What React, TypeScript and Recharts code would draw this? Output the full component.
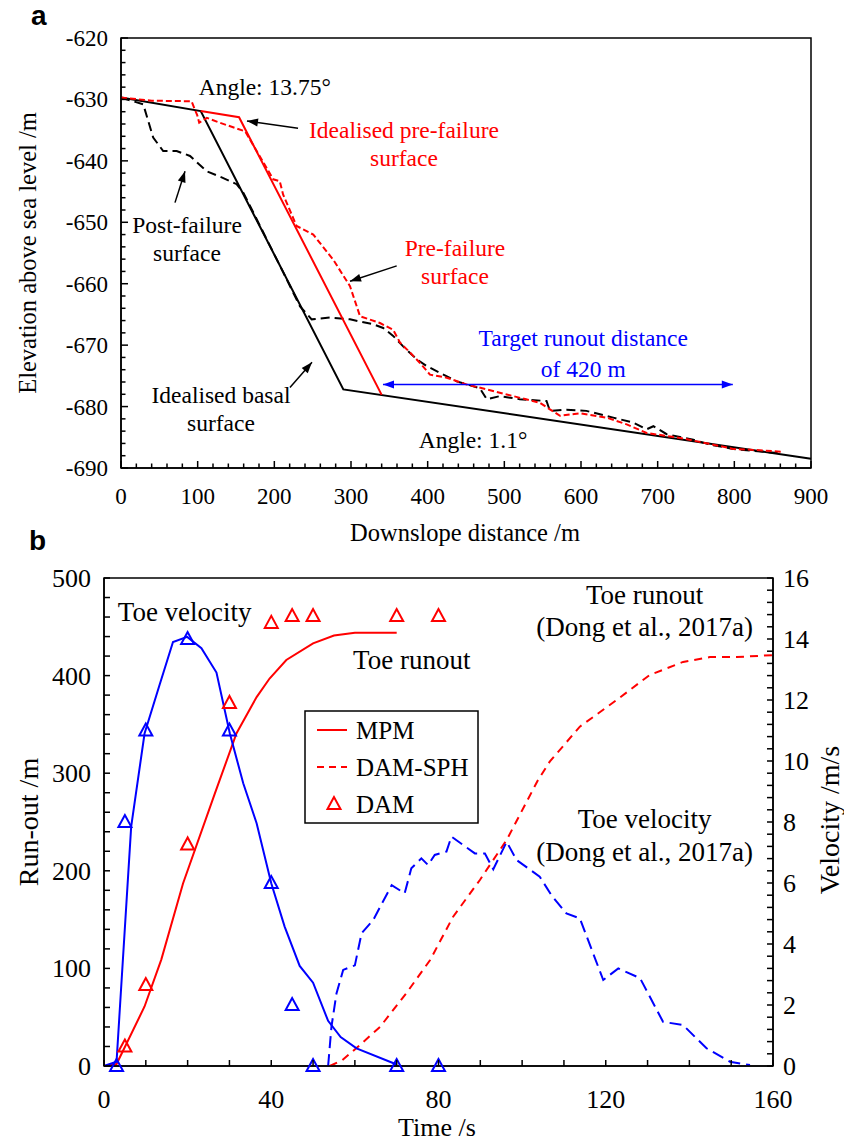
import React from 'react';
import { LineChart, Line, XAxis, YAxis, ReferenceArea, ReferenceLine, ReferenceDot } from 'recharts';

const SERIF = '"Liberation Serif", "Times New Roman", serif';
const SANS = '"Liberation Sans", Arial, sans-serif';
const RED = '#ff0000';
const BLUE = '#0000ff';

// ---------------- Panel a: downslope distance (m) vs elevation (m)
const idealisedBasal: number[][] = [[0, -629.7], [104, -631.9], [290, -677.2], [900, -688.5]];
const idealisedPreFailure: number[][] = [[104, -631.9], [154, -632.9], [340, -678.1]];
const preFailure: number[][] = [
  [0, -629.7], [40, -630.2], [92, -630.3], [99.5, -632.6], [102, -633.8], [112, -633.0], [129, -633.8],
  [162, -635.2], [198.6, -643.0], [207, -643.3], [211.5, -645.5], [229, -650.6], [250.8, -652.0],
  [276.9, -656.1], [298.7, -660.4], [311.8, -665.3], [337.8, -666.4], [355, -667.5], [364, -669.6],
  [377, -671.2], [390, -672.9], [403, -674.8], [424.8, -675.3], [450.8, -676.4], [477, -677.2],
  [511.7, -678.3], [546.5, -679.4], [572.6, -681.5], [598.7, -681.1], [633.5, -681.8], [659.6, -682.9],
  [685.6, -684.3], [729, -685.1], [772.6, -686.2], [798.7, -686.9], [833.5, -687.1], [864, -687.4],
];
const postFailure: number[][] = [
  [0, -629.7], [29, -630.8], [42, -636.2], [55, -638.4], [72.6, -638.4], [90, -639.2], [111.8, -641.7],
  [133.5, -642.8], [150.8, -643.8], [159.6, -645.2], [177, -649.5], [211.8, -658.2], [233.5, -663.7],
  [248.7, -665.8], [272.6, -665.5], [298.7, -665.8], [329, -666.6], [342, -667.2], [355, -668.5],
  [368, -670.2], [385.7, -672.3], [398.7, -673.4], [416, -674.5], [437.8, -675.9], [468, -677],
  [477, -678.8], [494, -678.3], [520, -678.8], [555, -679.1], [559.5, -680.7], [581, -680.5],
  [607, -680.7], [642, -681.8], [668, -682.6], [685.6, -683.7], [694.4, -683.2], [711.8, -684.5],
  [746.5, -685.4], [768.3, -686.2], [798.7, -686.9], [859.5, -687.6],
];
const aXMajor = [0, 100, 200, 300, 400, 500, 600, 700, 800, 900];
const aYMajor = [-690, -680, -670, -660, -650, -640, -630, -620];

// ---------------- Panel b: time (s) vs run-out (m) / velocity (m/s)
const mpmRunout: number[][] = [
  [0, 0], [3, 2], [5.4, 23], [9.7, 61], [13.7, 109], [18.9, 187], [26.5, 279], [31.7, 341], [36.5, 378],
  [39.6, 397], [43.6, 416], [50, 433], [55, 441], [60, 444], [70, 444],
];
const mpmVelocity: number[][] = [
  [0, 0], [3, 0.14], [6.5, 7.85], [9.7, 10.9], [13.3, 12.5], [16.5, 13.9], [19.9, 14.07], [23.3, 13.7],
  [26.9, 12.9], [30.1, 10.9], [33.3, 9.27], [36.5, 7.96], [40, 5.99], [43.2, 4.57], [46.8, 3.28],
  [50, 2.73], [53.6, 1.48], [56.6, 0.95], [60.4, 0.58], [70, 0.05],
];
const damRunout: number[][] = [[5, 20], [10, 83], [20, 227], [30, 372], [40, 454], [45, 461], [50, 461], [70, 461], [80, 461]];
const damVelocity: number[][] = [[3, 0], [5, 8], [10, 11], [20, 14], [30, 11], [40, 6], [45, 2], [50, 0], [70, 0], [80, 0]];
const sphRunout: number[][] = [
  [54, 0], [57, 6], [61.2, 21.5], [66, 40], [72.3, 74.5], [78, 108.6], [83.5, 153], [89.9, 190.6],
  [96.3, 231.6], [103.8, 293], [106.6, 311.8], [113.8, 347.7], [122.6, 375], [130.5, 400.6],
  [138.5, 414], [144.9, 419], [151.3, 419], [160, 421],
];
const sphVelocity: number[][] = [
  [53.6, 0], [54.4, 1.29], [55.6, 2.38], [57.2, 3.15], [60, 3.3], [61.6, 4.35], [64.4, 4.79], [68.8, 5.93],
  [71.9, 5.66], [73.5, 6.48], [75.9, 6.81], [77.5, 6.59], [79.1, 6.92], [81.9, 7.03], [83.1, 7.52],
  [88.7, 6.97], [91.1, 6.97], [93.1, 6.45], [96.3, 7.35], [98.7, 6.75], [104.2, 6.21], [107, 5.6],
  [110.6, 5.0], [113.8, 4.84], [119.4, 2.82], [123, 3.2], [128.2, 2.88], [133.7, 1.45], [138.5, 1.34],
  [144.1, 0.58], [149.7, 0.14], [154.5, 0.03],
];
const bXMajor = [0, 40, 80, 120, 160];
const bLeftMajor = [0, 100, 200, 300, 400, 500];
const bRightMajor = [0, 2, 4, 6, 8, 10, 12, 14, 16];

const pts = (arr: number[][]) => arr.map(([x, y]) => ({ x, y }));
const steps = (lo: number, hi: number, step: number) => {
  const out: number[] = [];
  const n = Math.round((hi - lo) / step);
  for (let i = 0; i <= n; i++) out.push(+(lo + i * step).toFixed(4));
  return out;
};

function tickRenderer(
  orient: 'bottom' | 'left' | 'right',
  major: number[],
  majorLen: number,
  minorLen: number,
  fontSize: number,
  gap: number,
  shift: number,
) {
  return (props: any) => {
    const { x, y, payload, index } = props;
    const v = payload.value as number;
    const isMajor = major.some((m) => Math.abs(m - v) < 1e-6);
    const len = isMajor ? majorLen : minorLen;
    const ls = { stroke: '#000', strokeWidth: 1.5 };
    const ts = { fill: '#000', fontSize, fontFamily: SERIF, stroke: 'none' };
    if (orient === 'bottom') {
      return (
        <g key={`tb-${index}`}>
          <line x1={x} y1={y} x2={x} y2={y - len} {...ls} />
          {isMajor && <text x={x} y={y + gap} textAnchor="middle" {...ts}>{v}</text>}
        </g>
      );
    }
    if (orient === 'left') {
      return (
        <g key={`tl-${index}`}>
          <line x1={x} y1={y} x2={x + len} y2={y} {...ls} />
          {isMajor && <text x={x - gap} y={y + shift} textAnchor="end" {...ts}>{v}</text>}
        </g>
      );
    }
    return (
      <g key={`tr-${index}`}>
        <line x1={x} y1={y} x2={x - len} y2={y} {...ls} />
        {isMajor && <text x={x + gap} y={y + shift} textAnchor="start" {...ts}>{v}</text>}
      </g>
    );
  };
}

function note(key: string, x: number, y: number, lines: string[], color: string, size: number, lineH: number, yAxisId?: string) {
  const extra: any = yAxisId ? { yAxisId } : {};
  return (
    <ReferenceDot
      key={key}
      x={x}
      y={y}
      r={0}
      {...extra}
      ifOverflow="visible"
      shape={(p: any) => (
        <text x={p.cx} y={p.cy} textAnchor="middle" fill={color} fontSize={size} fontFamily={SERIF}>
          {lines.map((l, i) => (
            <tspan key={i} x={p.cx} dy={i === 0 ? size * 0.35 : lineH}>{l}</tspan>
          ))}
        </text>
      )}
    />
  );
}

const head = (x: number, y: number, ang: number, color: string) => {
  const L = 11;
  const W = 4;
  const bx = x - L * Math.cos(ang);
  const by = y - L * Math.sin(ang);
  const px = -Math.sin(ang) * W;
  const py = Math.cos(ang) * W;
  return <polygon points={`${x},${y} ${bx + px},${by + py} ${bx - px},${by - py}`} fill={color} stroke="none" />;
};

function arrow(key: string, from: number[], to: number[], color: string, both = false) {
  return (
    <ReferenceLine
      key={key}
      segment={[{ x: from[0], y: from[1] }, { x: to[0], y: to[1] }]}
      ifOverflow="visible"
      shape={(p: any) => {
        const { x1, y1, x2, y2 } = p;
        const ang = Math.atan2(y2 - y1, x2 - x1);
        return (
          <g>
            <line x1={x1} y1={y1} x2={x2} y2={y2} stroke={color} strokeWidth={1.5} />
            {head(x2, y2, ang, color)}
            {both && head(x1, y1, ang + Math.PI, color)}
          </g>
        );
      }}
    />
  );
}

const triangle = (color: string) => (p: any) => {
  const { cx, cy, index } = p;
  if (cx == null || cy == null) return <g key={`n-${index}`} />;
  return (
    <polygon
      key={`tri-${index}`}
      points={`${cx},${cy - 7} ${cx - 6.5},${cy + 5} ${cx + 6.5},${cy + 5}`}
      fill="none"
      stroke={color}
      strokeWidth={2}
    />
  );
};

function PanelA() {
  return (
    <LineChart width={844} height={560} margin={{ top: 38, right: 33, bottom: 0, left: 0 }}>
      <XAxis
        dataKey="x"
        type="number"
        domain={[0, 900]}
        ticks={steps(0, 900, 20)}
        interval={0}
        height={92}
        tickSize={0}
        tickMargin={0}
        tickLine={false}
        axisLine={{ stroke: '#000', strokeWidth: 1.5 }}
        tick={tickRenderer('bottom', aXMajor, 7, 4.5, 23, 36, 0)}
      />
      <YAxis
        type="number"
        domain={[-690, -620]}
        ticks={steps(-690, -620, 2)}
        interval={0}
        width={121}
        tickSize={0}
        tickMargin={0}
        tickLine={false}
        axisLine={{ stroke: '#000', strokeWidth: 1.5 }}
        tick={tickRenderer('left', aYMajor, 7, 4.5, 23, 13, 8)}
      />
      <ReferenceArea x1={0} x2={900} y1={-690} y2={-620} fill="none" stroke="#000" strokeWidth={1.5} ifOverflow="visible" />
      <Line data={pts(idealisedBasal)} dataKey="y" stroke="#000" strokeWidth={2} dot={false} isAnimationActive={false} />
      <Line data={pts(postFailure)} dataKey="y" stroke="#000" strokeWidth={2} strokeDasharray="9 5" dot={false} isAnimationActive={false} />
      <Line data={pts(idealisedPreFailure)} dataKey="y" stroke={RED} strokeWidth={2} dot={false} isAnimationActive={false} />
      <Line data={pts(preFailure)} dataKey="y" stroke={RED} strokeWidth={2} strokeDasharray="6 3" dot={false} isAnimationActive={false} />
      {arrow('a1', [230.9, -634.7], [164.3, -633.5], '#000')}
      {arrow('a2', [70.4, -646.8], [83.5, -641.7], '#000')}
      {arrow('a3', [359.6, -657.1], [298.7, -659.6], '#000')}
      {arrow('a4', [220.4, -676.9], [249.1, -672.8], '#000')}
      {arrow('a5', [341.7, -676.4], [798, -676.4], BLUE, true)}
      {note('n1', 187.5, -627.9, ['Angle: 13.75°'], '#000', 23.5, 28)}
      {note('n2', 369.1, -634.9, ['Idealised pre-failure', 'surface'], RED, 23.5, 28)}
      {note('n3', 86.1, -650.4, ['Post-failure', 'surface'], '#000', 23.5, 28)}
      {note('n4', 435.6, -654.1, ['Pre-failure', 'surface'], RED, 23.5, 28)}
      {note('n5', 603, -668.75, ['Target runout distance', 'of 420 m'], BLUE, 23.5, 31)}
      {note('n6', 130.4, -678.0, ['Idealised basal', 'surface'], '#000', 23.5, 28)}
      {note('n7', 459.1, -685.4, ['Angle: 1.1°'], '#000', 23.5, 28)}
    </LineChart>
  );
}

function PanelB() {
  return (
    <LineChart width={844} height={584} margin={{ top: 18, right: 0, bottom: 0, left: 0 }}>
      <XAxis
        dataKey="x"
        type="number"
        domain={[0, 160]}
        ticks={steps(0, 160, 10)}
        interval={0}
        height={78}
        tickSize={0}
        tickMargin={0}
        tickLine={false}
        axisLine={{ stroke: '#000', strokeWidth: 1.5 }}
        tick={tickRenderer('bottom', bXMajor, 6, 6, 26, 42, 0)}
      />
      <YAxis
        yAxisId="L"
        type="number"
        domain={[0, 500]}
        ticks={steps(0, 500, 20)}
        interval={0}
        width={104}
        tickSize={0}
        tickMargin={0}
        tickLine={false}
        axisLine={{ stroke: '#000', strokeWidth: 1.5 }}
        tick={tickRenderer('left', bLeftMajor, 6, 6, 26, 13, 9)}
      />
      <YAxis
        yAxisId="R"
        orientation="right"
        type="number"
        domain={[0, 16]}
        ticks={steps(0, 16, 0.4)}
        interval={0}
        width={71}
        tickSize={0}
        tickMargin={0}
        tickLine={false}
        axisLine={{ stroke: '#000', strokeWidth: 1.5 }}
        tick={tickRenderer('right', bRightMajor, 6, 6, 26, 10, 9)}
      />
      <ReferenceArea yAxisId="L" x1={0} x2={160} y1={0} y2={500} fill="none" stroke="#000" strokeWidth={1.5} ifOverflow="visible" />
      <Line yAxisId="L" data={pts(mpmRunout)} dataKey="y" stroke={RED} strokeWidth={2} dot={false} isAnimationActive={false} />
      <Line yAxisId="L" data={pts(sphRunout)} dataKey="y" stroke={RED} strokeWidth={2} strokeDasharray="8 6" dot={false} isAnimationActive={false} />
      <Line yAxisId="R" data={pts(mpmVelocity)} dataKey="y" stroke={BLUE} strokeWidth={2} dot={false} isAnimationActive={false} />
      <Line yAxisId="R" data={pts(sphVelocity)} dataKey="y" stroke={BLUE} strokeWidth={2} strokeDasharray="12 6" dot={false} isAnimationActive={false} />
      <Line yAxisId="L" data={pts(damRunout)} dataKey="y" stroke="none" dot={triangle(RED)} isAnimationActive={false} />
      <Line yAxisId="R" data={pts(damVelocity)} dataKey="y" stroke="none" dot={triangle(BLUE)} isAnimationActive={false} />
      {note('m1', 19.3, 465.2, ['Toe velocity'], '#000', 27, 33, 'L')}
      {note('m2', 73.6, 416, ['Toe runout'], '#000', 27, 33, 'L')}
      {note('m3', 129.3, 482.6, ['Toe runout', '(Dong et al., 2017a)'], '#000', 27, 32, 'L')}
      {note('m4', 129.3, 254, ['Toe velocity', '(Dong et al., 2017a)'], '#000', 27, 33, 'L')}
    </LineChart>
  );
}

export default function App() {
  const t = { fontFamily: SERIF, fill: '#000' } as const;
  return (
    <div style={{ position: 'absolute', left: 0, top: 0, width: 844, height: 1144, background: '#fff', overflow: 'hidden' }}>
      <div style={{ position: 'absolute', left: 0, top: 0 }}>
        <PanelA />
      </div>
      <div style={{ position: 'absolute', left: 0, top: 560 }}>
        <PanelB />
      </div>
      <svg width={844} height={1144} style={{ position: 'absolute', left: 0, top: 0, pointerEvents: 'none' }}>
        <text x={31} y={25} fontFamily={SANS} fontWeight="bold" fontSize={28} fill="#000">a</text>
        <text x={29} y={550} fontFamily={SANS} fontWeight="bold" fontSize={28} fill="#000">b</text>
        <text x={27} y={253} transform="rotate(-90 27 253)" textAnchor="middle" dominantBaseline="central" fontSize={24.5} {...t}>
          Elevation above sea level /m
        </text>
        <text x={465} y={541} textAnchor="middle" fontSize={24.5} {...t}>Downslope distance /m</text>
        <text x={28} y={822} transform="rotate(-90 28 822)" textAnchor="middle" dominantBaseline="central" fontSize={28} {...t}>
          Run-out /m
        </text>
        <text x={829} y={820} transform="rotate(-90 829 820)" textAnchor="middle" dominantBaseline="central" fontSize={28} {...t}>
          Velocity /m/s
        </text>
        <text x={437} y={1136} textAnchor="middle" fontSize={26} {...t}>Time /s</text>
        <rect x={305} y={711} width={173} height={112} fill="#fff" stroke="#000" strokeWidth={1.5} />
        <line x1={317} y1={730} x2={347} y2={730} stroke={RED} strokeWidth={2} />
        <text x={356} y={739} fontSize={25} {...t}>MPM</text>
        <line x1={317} y1={767} x2={347} y2={767} stroke={RED} strokeWidth={2} strokeDasharray="7 5" />
        <text x={356} y={776} fontSize={25} {...t}>DAM-SPH</text>
        <polygon points="334,797 327.5,809 340.5,809" fill="none" stroke={RED} strokeWidth={2} />
        <text x={356} y={813} fontSize={25} {...t}>DAM</text>
      </svg>
    </div>
  );
}
